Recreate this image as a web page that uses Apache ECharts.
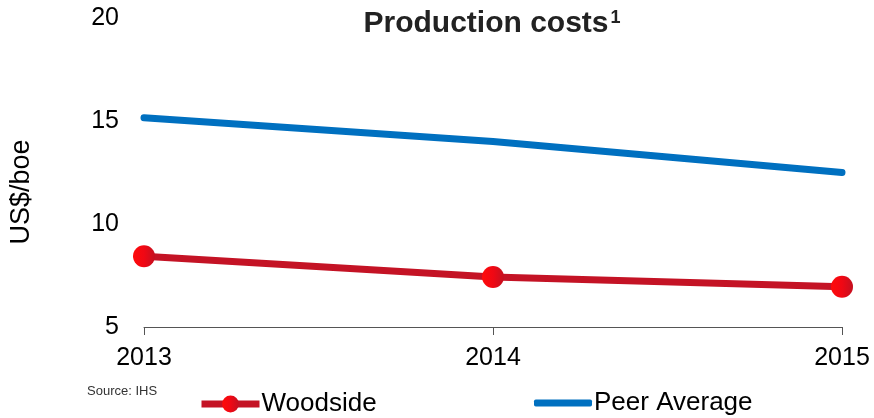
<!DOCTYPE html>
<html>
<head>
<meta charset="utf-8">
<script src="https://cdn.jsdelivr.net/npm/echarts@6/dist/echarts.min.js"></script>
<style>
  html, body { margin: 0; padding: 0; background: #fff; }
  #chart { width: 874px; height: 418px; }
</style>
</head>
<body>
<div id="chart"></div>
<script>
// Production cost per barrel of oil equivalent, by year
const years = ['2013', '2014', '2015'];
const woodside = [8.43, 7.43, 6.95];
const peerAverage = [15.16, 14.0, 12.5];
const yTicks = [5, 10, 15, 20];

const FONT = '"Liberation Sans", Arial, sans-serif';
const redGradient = new echarts.graphic.LinearGradient(0, 0, 1, 0, [
  { offset: 0, color: '#ff0a0a' },
  { offset: 0.5, color: '#f00814' },
  { offset: 1, color: '#c41020' }
]);

const chart = echarts.init(document.getElementById('chart'));
chart.setOption({
  animation: false,
  backgroundColor: '#ffffff',
  title: {
    text: 'Production costs{sup|1}',
    left: 487,
    textAlign: 'center',
    top: 4,
    textStyle: {
      fontFamily: FONT, fontSize: 30, fontWeight: 'bold', color: '#222',
      rich: {
        sup: { fontFamily: FONT, fontSize: 18, fontWeight: 'bold', color: '#222', padding: [0, 0, 12, 2] }
      }
    }
  },
  graphic: [
    {
      type: 'text',
      left: 87,
      top: 385,
      style: { text: 'Source: IHS', fontFamily: FONT, fontSize: 13, fill: '#333' }
    },
    {
      type: 'text',
      x: 22,
      y: 192,
      rotation: Math.PI / 2,
      style: {
        text: 'US$/boe', fontFamily: FONT, fontSize: 27, fill: '#000',
        align: 'center', verticalAlign: 'middle'
      }
    }
  ],
  legend: [
    {
      data: [{ name: 'Woodside' }],
      left: 193,
      top: 386,
      itemWidth: 58,
      itemHeight: 21,
      lineStyle: { width: 7 },
      textStyle: { fontFamily: FONT, fontSize: 26, color: '#000', padding: [0, 0, 0, -3] }
    },
    {
      data: [{ name: 'Peer Average', icon: 'roundRect' }],
      left: 529,
      top: 385,
      itemWidth: 58,
      itemHeight: 7,
      textStyle: { fontFamily: FONT, fontSize: 26, color: '#000', padding: [0, 0, 0, -3] }
    }
  ],
  grid: { left: 144, right: 32, top: 18, bottom: 91, containLabel: false },
  xAxis: {
    type: 'category',
    data: years,
    boundaryGap: false,
    axisLine: { lineStyle: { color: '#555', width: 1 } },
    axisTick: { show: true, length: 8, lineStyle: { color: '#555' } },
    axisLabel: { fontFamily: FONT, fontSize: 25, color: '#000', margin: 19 },
    splitLine: { show: false }
  },
  yAxis: {
    type: 'value',
    min: yTicks[0],
    max: yTicks[yTicks.length - 1],
    interval: 5,
    axisLine: { show: false },
    axisTick: { show: false },
    splitLine: { show: false },
    axisLabel: { fontFamily: FONT, fontSize: 25, color: '#000', margin: 25 }
  },
  series: [
    {
      name: 'Woodside',
      type: 'line',
      data: woodside,
      symbol: 'circle',
      symbolSize: 22,
      lineStyle: { color: '#c41325', width: 7 },
      itemStyle: { color: redGradient },
      z: 3
    },
    {
      name: 'Peer Average',
      type: 'line',
      data: peerAverage,
      symbol: 'none',
      lineStyle: { color: '#0070c0', width: 7, cap: 'round' },
      itemStyle: { color: '#0070c0' },
      z: 2
    }
  ]
});
</script>
</body>
</html>
